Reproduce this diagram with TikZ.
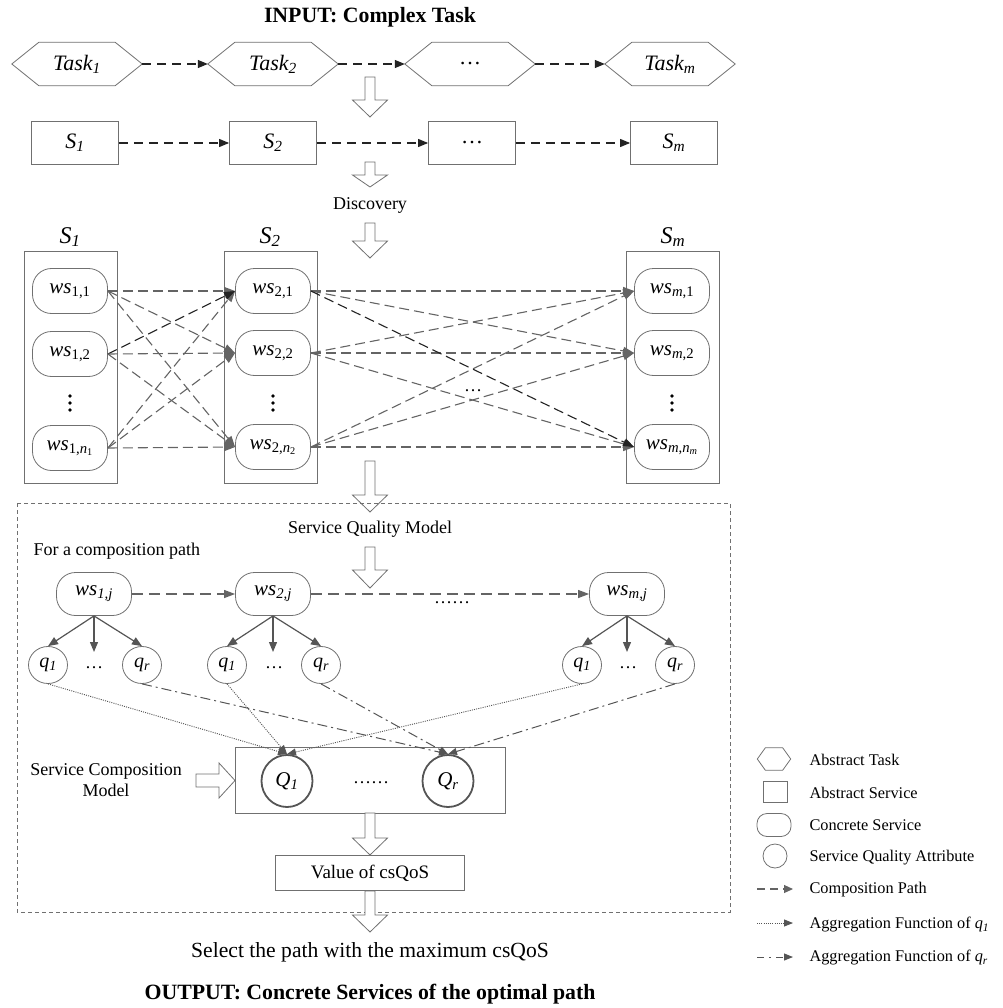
\documentclass[tikz,border=0pt]{standalone}
\usepackage{fontspec}
\setmainfont{Liberation Serif}
\usetikzlibrary{arrows.meta,shapes.geometric,calc}
\definecolor{bd}{RGB}{112,112,112}
\definecolor{ln}{RGB}{100,100,100}
\definecolor{dk}{RGB}{35,35,35}
\definecolor{qd}{RGB}{85,85,85}
\newcommand{\blkdown}[4]{\draw[bd, fill=white, line width=0.8pt] ({#1-5},#2) -- ({#1+5},#2) -- ({#1+5},#3) -- ({#1+17.5},#3) -- (#1,#4) -- ({#1-17.5},#3) -- ({#1-5},#3) -- cycle;}
\newcommand{\hexdraw}[2]{\draw[bd, line width=0.8pt] (#1.west) -- ([xshift=#2]#1.north west) -- ([xshift=-#2]#1.north east) -- (#1.east) -- ([xshift=-#2]#1.south east) -- ([xshift=#2]#1.south west) -- cycle;}
\newcommand{\vdotsat}[2]{\fill[black] (#1,#2-7) circle (1.8) (#1,#2) circle (1.8) (#1,#2+7) circle (1.8);}
\begin{document}
\begin{tikzpicture}[x=1pt,y=-1pt,
  every node/.style={font=\fontsize{18}{21}\selectfont, text=black},
  plain/.style={draw=bd, line width=0.8pt},
  hexbox/.style={rectangle, minimum width=130pt, minimum height=43pt, inner sep=0pt, font=\fontsize{22}{24}\selectfont\itshape},
  sbox/.style={plain, rectangle, minimum width=87pt, minimum height=43pt, inner sep=0pt, font=\fontsize{22}{24}\selectfont\itshape},
  colbox/.style={plain, rectangle, minimum width=93pt, minimum height=232pt},
  collabel/.style={font=\fontsize{24}{26}\selectfont\itshape},
  wsn/.style={plain, rectangle, rounded corners=19pt, minimum width=75pt, minimum height=45pt, inner sep=0pt, font=\fontsize{21}{24}\selectfont},
  qn/.style={plain, ellipse, minimum width=39pt, minimum height=37pt, inner sep=0pt, font=\fontsize{20}{22}\selectfont\itshape},
  Qn/.style={draw=qd, line width=1.8pt, ellipse, minimum width=51pt, minimum height=52pt, inner sep=0pt, font=\fontsize{21}{22}\selectfont\itshape},
  toparrow/.style={draw=dk, line width=1.1pt, dash pattern=on 9pt off 6pt, -{Triangle[length=10pt,width=8pt]}},
  link/.style={draw=ln, line width=1.1pt, dash pattern=on 10pt off 5pt, -{Triangle[length=11pt,width=8pt]}},
  hot/.style={link, draw=dk},
  qarrow/.style={draw=qd, line width=1.2pt, -{Triangle[length=10pt,width=8pt]}},
  dotl/.style={draw=qd, line width=0.9pt, dash pattern=on 1pt off 1.2pt, -{Triangle[length=9pt,width=7pt]}},
  dashdot/.style={draw=qd, line width=1pt, dash pattern=on 10pt off 4pt on 2pt off 4pt, -{Triangle[length=9pt,width=7pt]}},
  legtext/.style={anchor=west, font=\fontsize{16.3}{18}\selectfont},
  bigtext/.style={font=\fontsize{21.6}{24}\selectfont},
  titletext/.style={font=\fontsize{21.8}{24}\selectfont\bfseries}
]
\useasboundingbox (0,0) rectangle (1002,1008);

% ---- title and task row
\node[titletext] (title) at (370,17) {INPUT: Complex Task};
\node[hexbox] (t1) at (77,64) {Task\textsubscript{1}};
\node[hexbox] (t2) at (273,64) {Task\textsubscript{2}};
\node[hexbox] (t3) at (470,64) {\upshape\ldots};
\node[hexbox] (t4) at (670,64) {Task\textsubscript{m}};
\foreach \n in {t1,t2,t3,t4} {\hexdraw{\n}{27pt}}
\draw[toparrow] (t1.east) -- (t2.west);
\draw[toparrow] (t2.east) -- (t3.west);
\draw[toparrow] (t3.east) -- (t4.west);

\blkdown{370}{77}{100}{117}

% ---- abstract services row
\node[sbox] (s1) at (75,143) {S\textsubscript{1}};
\node[sbox] (s2) at (273,143) {S\textsubscript{2}};
\node[sbox] (s3) at (472,143) {\upshape\ldots};
\node[sbox] (s4) at (674,143) {S\textsubscript{m}};
\draw[toparrow] (s1.east) -- (s2.west);
\draw[toparrow] (s2.east) -- (s3.west);
\draw[toparrow] (s3.east) -- (s4.west);

\blkdown{370}{162}{175}{187}
\node (disc) at (370,205) {Discovery};
\blkdown{370}{223}{241}{258}

% ---- discovery columns
\node[colbox] (c1) at (70.5,367) {};
\node[colbox] (c2) at (271,367) {};
\node[colbox] (c3) at (673,367) {};
\node[collabel] (c1l) at (70,237) {S\textsubscript{1}};
\node[collabel] (c2l) at (270,237) {S\textsubscript{2}};
\node[collabel] (c3l) at (673,237) {S\textsubscript{m}};

\node[wsn] (a1) at (70,291) {\textit{ws}\textsubscript{1,1}};
\node[wsn] (a2) at (70,354) {\textit{ws}\textsubscript{1,2}};
\node[wsn] (a3) at (70,448) {\textit{ws}\textsubscript{1,\textit{n}\textsubscript{1}}};
\node[wsn] (b1) at (273,291) {\textit{ws}\textsubscript{2,1}};
\node[wsn] (b2) at (273,353) {\textit{ws}\textsubscript{2,2}};
\node[wsn] (b3) at (273,447) {\textit{ws}\textsubscript{2,\textit{n}\textsubscript{2}}};
\node[wsn] (m1) at (672,291) {\textit{ws}\textsubscript{\textit{m},1}};
\node[wsn] (m2) at (672,353) {\textit{ws}\textsubscript{\textit{m},2}};
\node[wsn] (m3) at (672,447) {\textit{ws}\textsubscript{\textit{m},\textit{n}\textsubscript{\textit{m}}}};
\vdotsat{70}{403}
\vdotsat{273}{403}
\vdotsat{672}{403}

\foreach \s in {a1,a3} \foreach \t in {b1,b2,b3} {\draw[link] (\s.east) -- (\t.west);}
\draw[hot] (a2.east) -- (b1.west);
\draw[link] (a2.east) -- (b2.west);
\draw[link] (a2.east) -- (b3.west);
\foreach \s in {b2,b3} \foreach \t in {m1,m2,m3} {\draw[link] (\s.east) -- (\t.west);}
\draw[link] (b1.east) -- (m1.west);
\draw[link] (b1.east) -- (m2.west);
\draw[hot] (b1.east) -- (m3.west);
\node (mid) at (473,391) {\ldots};

\blkdown{370}{461}{495}{512}

% ---- service quality model
\draw[bd, line width=0.8pt, dash pattern=on 4pt off 3pt] (17,503) rectangle (730,912);
\node (sqm) at (370,529) {Service Quality Model};
\node[anchor=west] (fcp) at (30,551) {For a composition path};
\blkdown{370}{547}{570}{588}

\node[wsn, minimum height=43pt] (p1) at (94,594) {\textit{ws}\textsubscript{\textit{1,j}}};
\node[wsn, minimum height=43pt] (p2) at (273,594) {\textit{ws}\textsubscript{\textit{2,j}}};
\node[wsn, minimum height=43pt] (p3) at (627,594) {\textit{ws}\textsubscript{\textit{m,j}}};
\draw[link, dash pattern=on 11pt off 6pt] (p1.east) -- (p2.west);
\draw[link, dash pattern=on 11pt off 6pt] (p2.east) -- (p3.west);
\node (pdots) at (452,603) {\ldots\ldots};

\node[qn] (q11) at (48,665) {q\textsubscript{1}};
\node[qn] (q1r) at (142,665) {q\textsubscript{r}};
\node (d1) at (94,668) {\ldots};
\node[qn] (q21) at (227,665) {q\textsubscript{1}};
\node[qn] (q2r) at (321,665) {q\textsubscript{r}};
\node (d2) at (274,668) {\ldots};
\node[qn] (qm1) at (582,665) {q\textsubscript{1}};
\node[qn] (qmr) at (675,665) {q\textsubscript{r}};
\node (d3) at (628,668) {\ldots};
\coordinate (e1) at (94,652);
\coordinate (e2) at (273,652);
\coordinate (e3) at (627,652);
\draw[qarrow] (p1.south) -- (q11.north);
\draw[qarrow] (p1.south) -- (e1);
\draw[qarrow] (p1.south) -- (q1r.north);
\draw[qarrow] (p2.south) -- (q21.north);
\draw[qarrow] (p2.south) -- (e2);
\draw[qarrow] (p2.south) -- (q2r.north);
\draw[qarrow] (p3.south) -- (qm1.north);
\draw[qarrow] (p3.south) -- (e3);
\draw[qarrow] (p3.south) -- (qmr.north);

% ---- composition model
\node[plain, rectangle, minimum width=270pt, minimum height=66pt] (QB) at (370,780) {};
\node[Qn] (Q1) at (287,781) {Q\textsubscript{1}};
\node[Qn] (Qr) at (448,781) {Q\textsubscript{r}};
\node (Qd) at (371,783) {\ldots\ldots};
\draw[dotl] (q11.south) -- (Q1.north);
\draw[dotl] (q21.south) -- (Q1.north);
\draw[dotl] (qm1.south) -- (Q1.north);
\draw[dashdot] (q1r.south) -- (Qr.north);
\draw[dashdot] (q2r.south) -- (Qr.north);
\draw[dashdot] (qmr.south) -- (Qr.north);

\node[align=center] (scm) at (106,780) {Service Composition\\Model};
\draw[bd, fill=white, line width=0.8pt] (196,774) -- (219,774) -- (219,763) -- (235,780.5) -- (219,798) -- (219,787) -- (196,787) -- cycle;

\blkdown{370}{813}{838}{855}
\node[plain, rectangle, minimum width=189pt, minimum height=35pt, font=\fontsize{19}{22}\selectfont] (val) at (370,873) {Value of csQoS};
\blkdown{370}{891}{915}{932}
\node[bigtext] (sel) at (370,952) {Select the path with the maximum csQoS};
\node[titletext] (out) at (370,994) {OUTPUT: Concrete Services of the optimal path};

% ---- legend
\node[rectangle, minimum width=33pt, minimum height=22pt, inner sep=0pt] (lh) at (774,759) {};
\hexdraw{lh}{8pt}
\node[plain, rectangle, minimum width=24pt, minimum height=21pt, inner sep=0pt] (ls) at (775,792) {};
\node[plain, rectangle, rounded corners=10pt, minimum width=34pt, minimum height=23pt, inner sep=0pt] (lc) at (774,825) {};
\node[plain, ellipse, minimum width=24pt, minimum height=24pt, inner sep=0pt] (lq) at (775,856) {};
\coordinate (l5a) at (757,889); \coordinate (l5b) at (793,889);
\coordinate (l6a) at (757,923); \coordinate (l6b) at (793,923);
\coordinate (l7a) at (757,957); \coordinate (l7b) at (793,957);
\draw[link, dash pattern=on 8pt off 5pt, -{Triangle[length=9pt,width=8pt]}] (l5a) -- (l5b);
\draw[dotl] (l6a) -- (l6b);
\draw[dashdot, dash pattern=on 7pt off 5pt on 2pt off 5pt] (l7a) -- (l7b);
\node[legtext] (lt1) at (806,760) {Abstract Task};
\node[legtext] (lt2) at (806,793) {Abstract Service};
\node[legtext] (lt3) at (806,825) {Concrete Service};
\node[legtext] (lt4) at (806,858) {Service Quality Attribute};
\node[legtext] (lt5) at (806,890) {Composition Path};
\node[legtext] (lt6) at (806,925) {Aggregation Function of \textit{q}\textsubscript{\textit{1}}};
\node[legtext] (lt7) at (806,958) {Aggregation Function of \textit{q}\textsubscript{\textit{r}}};
\end{tikzpicture}
\end{document}
